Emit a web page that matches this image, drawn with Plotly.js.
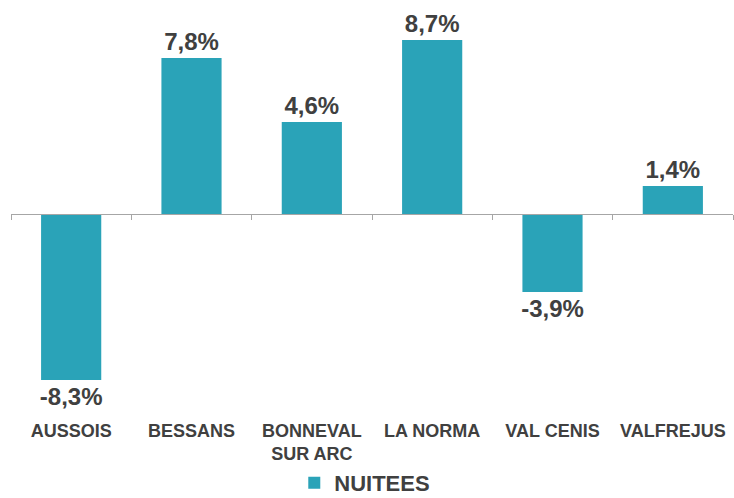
<!DOCTYPE html>
<html>
<head>
<meta charset="utf-8">
<script src="https://cdn.plot.ly/plotly-3.0.1.min.js"></script>
<style>html,body{margin:0;padding:0;background:#fff;}#chart{width:734px;height:498px;}</style>
</head>
<body>
<div id="chart"></div>
<script>
const categories = ["AUSSOIS", "BESSANS", "BONNEVAL SUR ARC", "LA NORMA", "VAL CENIS", "VALFREJUS"];
const tickLabels = ["AUSSOIS", "BESSANS", "BONNEVAL<br>SUR ARC", "LA NORMA", "VAL CENIS", "VALFREJUS"];
const nuitees = [-8.3, 7.8, 4.6, 8.7, -3.9, 1.4];
const seriesName = "NUITEES";

const barColor = "#2aa3b8";
const textColor = "#404040";
const font = "Liberation Sans, Arial, sans-serif";
const yRange = [-9.8, 9.7];
const zeroPos = (0 - yRange[0]) / (yRange[1] - yRange[0]);

const labels = nuitees.map(v => v.toFixed(1).replace('.', ',') + '%');

const traces = [
  {
    type: 'bar',
    name: seriesName,
    x: categories,
    y: nuitees,
    xaxis: 'x',
    yaxis: 'y',
    marker: {color: barColor},
    text: labels,
    textposition: 'outside',
    constraintext: 'none',
    cliponaxis: false,
    textfont: {family: font, size: 24, color: textColor, weight: 'bold'},
    hoverinfo: 'skip'
  },
  {
    type: 'scatter',
    mode: 'none',
    x: categories,
    y: nuitees,
    xaxis: 'x2',
    yaxis: 'y',
    showlegend: false,
    hoverinfo: 'skip'
  }
];

const layout = {
  width: 734,
  height: 498,
  margin: {l: 11, r: 1, t: 20, b: 88},
  paper_bgcolor: '#ffffff',
  plot_bgcolor: '#ffffff',
  bargap: 0.5,
  showlegend: true,
  hovermode: false,
  font: {family: font, color: textColor},
  xaxis: {
    type: 'category',
    categoryorder: 'array',
    categoryarray: categories,
    range: [-0.5, categories.length - 0.5],
    anchor: 'free',
    position: zeroPos,
    showline: true,
    linecolor: '#a6a6a6',
    linewidth: 1,
    ticks: 'outside',
    tickson: 'boundaries',
    ticklen: 5,
    tickcolor: '#a6a6a6',
    showticklabels: false,
    showgrid: false,
    zeroline: false,
    fixedrange: true
  },
  xaxis2: {
    type: 'category',
    categoryorder: 'array',
    categoryarray: categories,
    tickvals: categories,
    ticktext: tickLabels,
    range: [-0.5, categories.length - 0.5],
    overlaying: 'x',
    anchor: 'y',
    side: 'bottom',
    showline: false,
    ticks: '',
    showgrid: false,
    zeroline: false,
    tickfont: {family: font, size: 18, color: textColor, weight: 'bold'},
    ticklabelstandoff: 8,
    fixedrange: true
  },
  yaxis: {
    range: yRange,
    visible: false,
    showgrid: false,
    zeroline: false,
    fixedrange: true
  },
  legend: {
    orientation: 'h',
    x: 0.49,
    xanchor: 'center',
    yref: 'container',
    y: 0.03,
    yanchor: 'middle',
    itemwidth: 30,
    font: {family: font, size: 22, color: textColor, weight: 'bold'}
  }
};

Plotly.newPlot('chart', traces, layout, {displayModeBar: false, staticPlot: true});
</script>
</body>
</html>
